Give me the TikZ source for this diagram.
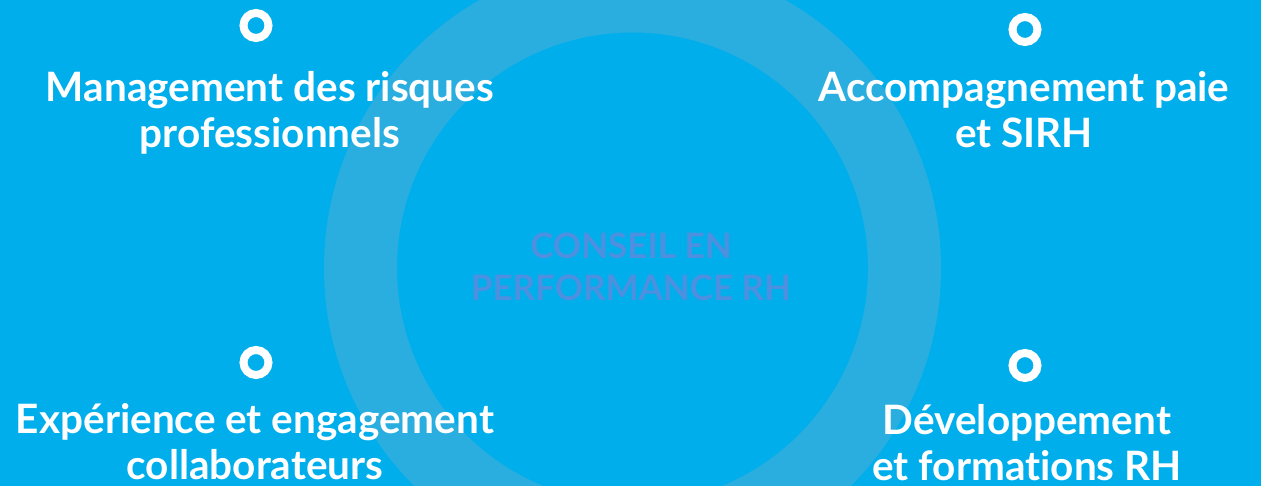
\documentclass[tikz,border=0pt]{standalone}
\usepackage{fontspec}
\setmainfont{Lato}[Ligatures=NoCommon]
\definecolor{bgblue}{RGB}{0,174,236}
\definecolor{ringblue}{RGB}{42,174,223}
\definecolor{titleblue}{RGB}{77,144,224}
\tikzset{
  dot/.style={circle, draw=white, line width=8pt, minimum size=25pt, inner sep=0pt, fill=bgblue},
  label/.style={text=white, font=\fontsize{40.5}{46}\selectfont\bfseries, align=center, anchor=base, inner sep=0pt},
  title/.style={text=titleblue, font=\fontsize{35}{42}\selectfont\bfseries, align=center, anchor=base, inner sep=0pt},
}
\begin{document}
\begin{tikzpicture}[x=1pt,y=-1pt]
\useasboundingbox (0,0) rectangle (1261,486);
\fill[bgblue] (0,0) rectangle (1261,486);
\begin{scope}
\clip (0,0) rectangle (1261,486);
\coordinate (ctr) at (632.5,268);
\draw[ringblue, line width=73pt] (ctr) circle[radius=272pt];
\end{scope}
\node[title] (ttl) at (631,301) {CONSEIL EN\\PERFORMANCE RH};
\node[dot] (d1) at (256,25.5) {};
\node[dot] (d2) at (1025,29.5) {};
\node[dot] (d3) at (256,362.5) {};
\node[dot] (d4) at (1025,365.5) {};
\node[label] (l1) at (270,148) {Management des risques\\professionnels};
\node[label] (l2) at (1024,148) {Accompagnement paie\\et SIRH};
\node[label] (l3) at (255,479) {Expérience et engagement\\collaborateurs};
\node[label] (l4) at (1027,480) {Développement\\et formations RH};
\end{tikzpicture}
\end{document}
